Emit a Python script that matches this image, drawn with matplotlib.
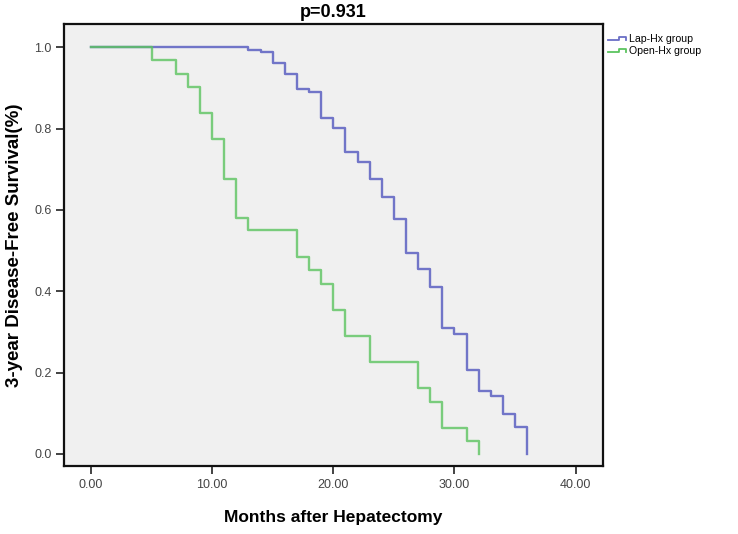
"""
Kaplan-Meier 曲线: Lap-Hx vs Open-Hx 3 年无病生存
"""

import matplotlib
matplotlib.use('Agg')
import matplotlib.pyplot as plt
from matplotlib.lines import Line2D
from matplotlib.legend_handler import HandlerBase

plt.rcParams['font.family'] = ['Liberation Sans', 'DejaVu Sans']

# 数据
lap_months = [0, 13, 14, 15, 16, 17, 18, 19, 20, 21, 22, 23, 24,
              25, 26, 27, 28, 29, 30, 31, 32, 33, 34, 35, 36]
lap_surv = [1.0, 0.994, 0.988, 0.960, 0.935, 0.898, 0.890, 0.825, 0.802,
            0.743, 0.718, 0.677, 0.631, 0.577, 0.495, 0.454, 0.411, 0.309,
            0.296, 0.206, 0.155, 0.143, 0.098, 0.067, 0.0]

open_months = [0, 5, 7, 8, 9, 10, 11, 12, 13, 17, 18, 19, 20, 21, 23,
               27, 28, 29, 31, 32]
open_surv = [1.0, 0.968, 0.935, 0.903, 0.839, 0.774, 0.677, 0.581, 0.550,
             0.484, 0.452, 0.419, 0.355, 0.290, 0.226, 0.161, 0.129, 0.065,
             0.032, 0.0]

group_names = ['Lap-Hx group', 'Open-Hx group']
group_colors = ['#6a6ec6', '#5cc45f']

x_ticks = [0, 10, 20, 30, 40]
y_ticks = [0.0, 0.2, 0.4, 0.6, 0.8, 1.0]


class StepHandler(HandlerBase):
    """SPSS 风格的小台阶图例"""
    def create_artists(self, legend, orig_handle, xdescent, ydescent,
                       width, height, fontsize, trans):
        x0, x1 = -xdescent, -xdescent + width
        xm = x0 + width * 0.6
        yl, yh = -ydescent + height * 0.25, -ydescent + height * 0.75
        line = Line2D([x0, xm, xm, x1, x1], [yl, yl, yh, yh, yl],
                      color=orig_handle.get_color(), lw=1.3)
        line.set_transform(trans)
        return [line]


fig = plt.figure(figsize=(7.38, 5.34), dpi=100)
ax = fig.add_axes([0.0867, 0.127, 0.730, 0.828])
ax.set_facecolor('#f0f0f0')

handles = []
for months, surv, color, name, a in zip([lap_months, open_months],
                                        [lap_surv, open_surv],
                                        group_colors, group_names,
                                        [0.95, 0.8]):
    h, = ax.step(months, surv, where='post', color=color, lw=1.7,
                 alpha=a, label=name)
    handles.append(h)

ax.set_xlim(-2.23, 42.24)
ax.set_ylim(-0.03, 1.057)
ax.set_xticks(x_ticks)
ax.set_xticklabels([f'{t:.2f}' for t in x_ticks])
ax.set_yticks(y_ticks)
ax.set_yticklabels([f'{t:.1f}' for t in y_ticks])
ax.tick_params(direction='out', length=5.5, width=1.2, labelsize=9,
               labelcolor='#444444', color='#222222')

for side in ['top', 'right', 'bottom', 'left']:
    ax.spines[side].set_linewidth(1.6)
    ax.spines[side].set_color('#111111')

ax.set_xlabel('Months after Hepatectomy', fontsize=12.5, fontweight='bold',
              labelpad=14)
ax.set_ylabel('3-year Disease-Free Survival(%)', fontsize=13.5,
              fontweight='bold', labelpad=8)
ax.set_title('p=0.931', fontsize=13, fontweight='bold', pad=5)

fig.legend(handles, group_names, loc='upper left',
           bbox_to_anchor=(0.818, 0.944), frameon=False, fontsize=7.6,
           handler_map={Line2D: StepHandler()}, handlelength=1.7,
           handletextpad=0.3, labelspacing=0.2, borderaxespad=0)

fig.savefig('out.png', dpi=100)
